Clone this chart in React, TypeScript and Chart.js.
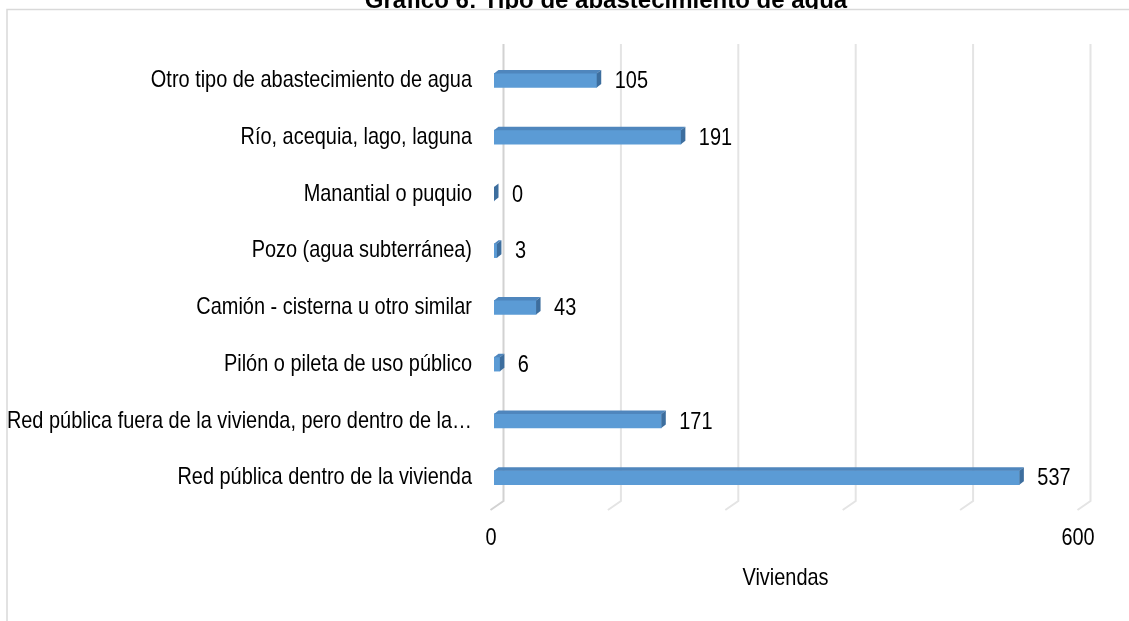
import React, { useEffect, useRef } from "react";
import { Chart, registerables } from "chart.js";

Chart.register(...registerables);

const chartTitle = "Gráfico 6: Tipo de abastecimiento de agua";
const categories = [
  "Otro tipo de abastecimiento de agua",
  "Río, acequia, lago, laguna",
  "Manantial o puquio",
  "Pozo (agua subterránea)",
  "Camión - cisterna u otro similar",
  "Pilón o pileta de uso público",
  "Red pública fuera de la vivienda, pero dentro de la…",
  "Red pública dentro de la vivienda",
];
const viviendas = [105, 191, 0, 3, 43, 6, 171, 537];
const axisMin = 0;
const axisMax = 600;
const axisStep = 120;
const shownTicks = [0, 600];
const axisTitle = "Viviendas";

const FONT = "24px 'Liberation Sans', Arial, sans-serif";
const NARROW = 0.83;
const DX = 4.5;
const DY = 3.5;

function narrowText(
  ctx: CanvasRenderingContext2D,
  text: string,
  x: number,
  y: number,
  align: CanvasTextAlign
) {
  ctx.save();
  ctx.translate(x, y);
  ctx.scale(NARROW, 1);
  ctx.font = FONT;
  ctx.fillStyle = "#000";
  ctx.textAlign = align;
  ctx.textBaseline = "middle";
  ctx.fillText(text, 0, 0);
  ctx.restore();
}

const decor = {
  id: "decor",
  beforeDatasetsDraw(chart: any) {
    const ctx = chart.ctx as CanvasRenderingContext2D;
    const xs = chart.scales.x;
    const area = chart.chartArea;
    ctx.save();
    // outer frame
    ctx.strokeStyle = "#d9d9d9";
    ctx.lineWidth = 1.5;
    ctx.beginPath();
    ctx.moveTo(7, chart.height);
    ctx.lineTo(7, 9.5);
    ctx.lineTo(chart.width, 9.5);
    ctx.stroke();
    // title (cut off at top)
    ctx.save();
    ctx.beginPath();
    ctx.rect(0, 0, chart.width, 9);
    ctx.clip();
    ctx.font = "bold 24px 'Liberation Sans', Arial, sans-serif";
    ctx.fillStyle = "#000";
    ctx.textAlign = "center";
    ctx.textBaseline = "alphabetic";
    ctx.fillText(chartTitle, 606, 8);
    ctx.restore();
    // 3D grid lines: back wall + floor diagonal
    for (let v = axisMin; v <= axisMax; v += axisStep) {
      const front = xs.getPixelForValue(v) - 3.5;
      const back = front + 13;
      ctx.strokeStyle = v === axisMin ? "#d2d2d2" : "#e4e4e4";
      ctx.lineWidth = 2;
      ctx.beginPath();
      ctx.moveTo(back, area.top - 8);
      ctx.lineTo(back, area.bottom - 5);
      ctx.lineTo(front, area.bottom + 4);
      ctx.stroke();
    }
    ctx.restore();
  },
  afterDatasetsDraw(chart: any) {
    const ctx = chart.ctx as CanvasRenderingContext2D;
    const meta = chart.getDatasetMeta(0);
    const data = chart.data.datasets[0].data as number[];
    const xs = chart.scales.x;
    const ys = chart.scales.y;
    const area = chart.chartArea;
    ctx.save();
    meta.data.forEach((bar: any, i: number) => {
      const { x, y, base, height } = bar.getProps(["x", "y", "base", "height"], true);
      const top = y - height / 2;
      const bottom = y + height / 2;
      // top face
      ctx.fillStyle = "#4f86bd";
      ctx.beginPath();
      ctx.moveTo(base, top);
      ctx.lineTo(x, top);
      ctx.lineTo(x + DX, top - DY);
      ctx.lineTo(base + DX, top - DY);
      ctx.closePath();
      ctx.fill();
      // side face
      ctx.fillStyle = "#3d6e9e";
      ctx.beginPath();
      ctx.moveTo(x, top);
      ctx.lineTo(x + DX, top - DY);
      ctx.lineTo(x + DX, bottom - DY);
      ctx.lineTo(x, bottom);
      ctx.closePath();
      ctx.fill();
      // value label
      narrowText(ctx, String(data[i]), x + 18, y + 1, "left");
    });
    // category labels
    categories.forEach((_, i) => {
      narrowText(ctx, ys.getLabelForValue(i), area.left - 22, ys.getPixelForValue(i), "left" === "left" ? "right" : "right");
    });
    // x tick labels
    shownTicks.forEach((v) => {
      narrowText(ctx, String(v), xs.getPixelForValue(v) - 3, area.bottom + 32, "center");
    });
    // axis title
    narrowText(ctx, axisTitle, (area.left + area.right) / 2 - 2, area.bottom + 72, "center");
    ctx.restore();
  },
};

export default function App() {
  const ref = useRef<HTMLCanvasElement>(null);
  useEffect(() => {
    if (!ref.current) return;
    const chart = new Chart(ref.current, {
      type: "bar",
      data: {
        labels: categories,
        datasets: [
          {
            label: axisTitle,
            data: viviendas,
            backgroundColor: "#5b9bd5",
            borderWidth: 0,
            barThickness: 14,
          },
        ],
      },
      options: {
        indexAxis: "y",
        responsive: false,
        animation: false,
        devicePixelRatio: 1,
        layout: { padding: { top: 52, right: 48, left: 0, bottom: 0 } },
        plugins: {
          legend: { display: false },
          title: { display: false },
          tooltip: { enabled: false },
        },
        scales: {
          y: {
            type: "category",
            grid: { display: false, drawTicks: false },
            border: { display: false },
            ticks: { display: false },
            afterFit: (s: any) => {
              s.width = 494;
            },
          },
          x: {
            type: "linear",
            min: axisMin,
            max: axisMax,
            grid: { display: false, drawTicks: false },
            border: { display: false },
            ticks: { display: false, stepSize: axisStep },
            afterFit: (s: any) => {
              s.height = 115;
            },
          },
        },
      },
      plugins: [decor],
    });
    return () => chart.destroy();
  }, []);
  return (
    <div style={{ position: "fixed", left: 0, top: 0, width: 1129, height: 621, background: "#fff" }}>
      <canvas ref={ref} width={1129} height={621} style={{ width: 1129, height: 621 }} />
    </div>
  );
}
